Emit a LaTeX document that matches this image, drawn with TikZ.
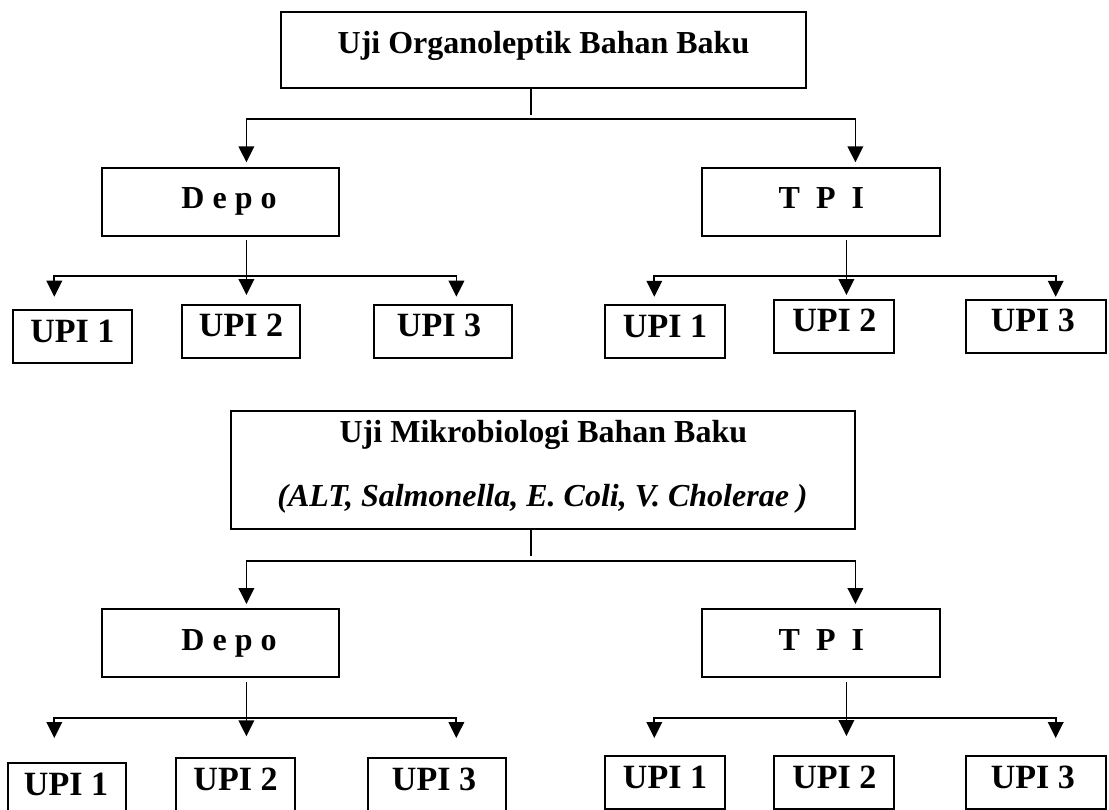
\documentclass[tikz,border=0pt]{standalone}
\usepackage{fontspec}
\setmainfont{Liberation Serif}
\usetikzlibrary{arrows.meta}
\begin{document}
\begin{tikzpicture}[x=0.5pt,y=-0.5pt]
\tikzset{
  box/.style={draw=black, line width=1pt, inner sep=0pt},
  ln/.style={line width=0.9pt},
  arr/.style={line width=0.9pt, -{Triangle[length=8pt,width=7.8pt]}},
  ttl/.style={font=\fontsize{16}{19}\selectfont\bfseries, anchor=base, inner sep=0pt},
  sub/.style={font=\fontsize{16}{19}\selectfont\bfseries\itshape, anchor=base, inner sep=0pt},
  upi/.style={font=\fontsize{17}{19}\selectfont\bfseries, anchor=base, inner sep=0pt}
}
\useasboundingbox (0,0) rectangle (1109,809);
\clip (0,0) rectangle (1109,809);

% ---------- organoleptic test ----------
\node[box, minimum width=262.2pt, minimum height=37.7pt] (org) at (543.5,50) {};
\node[ttl] (orgT) at (543.5,53.3) {Uji Organoleptik Bahan Baku};

\node[box, minimum width=118.25pt, minimum height=34pt] (depoA) at (220.4,201.7) {};
\node[ttl] (depoAT) at (229,208.3) {D e p o};
\node[box, minimum width=118.55pt, minimum height=34pt] (tpiA) at (821,201.7) {};
\node[ttl] (tpiAT) at (821.4,208.3) {T~~P~~I};

\node[box, minimum width=59.45pt, minimum height=26.5pt] (a1) at (72.3,336.5) {};
\node[upi] (a1T) at (72.3,342.3) {UPI 1};
\node[box, minimum width=59.3pt, minimum height=26.8pt] (a2) at (241.1,331.5) {};
\node[upi] (a2T) at (241,336.7) {UPI 2};
\node[box, minimum width=69.1pt, minimum height=26.8pt] (a3) at (442.7,331.5) {};
\node[upi] (a3T) at (439,336.7) {UPI 3};

\node[box, minimum width=59.8pt, minimum height=26.65pt] (b1) at (664.8,331.7) {};
\node[upi] (b1T) at (665,337.3) {UPI 1};
\node[box, minimum width=59.65pt, minimum height=26.65pt] (b2) at (834,326.7) {};
\node[upi] (b2T) at (834.3,331.7) {UPI 2};
\node[box, minimum width=69.65pt, minimum height=26.65pt] (b3) at (1036,326.7) {};
\node[upi] (b3T) at (1032.9,331.7) {UPI 3};

% connectors
\coordinate (j1) at (531,119.3);
\draw[ln] (org.south -| j1) -- ([yshift=2pt]j1);
\draw[arr, shorten >=2.2pt] (j1) -| ([xshift=13pt]depoA.north);
\draw[arr, shorten >=2.2pt] (j1) -| ([xshift=17.2pt]tpiA.north);

\coordinate (j2) at (246.4,276.3);
\draw[arr, shorten <=1.65pt, shorten >=4.35pt] ([xshift=13pt]depoA.south) -- (a2.north -| j2);
\draw[arr, shorten >=6.15pt] (j2) -| ([xshift=-9pt]a1.north);
\draw[arr, shorten >=3.5pt] (j2) -| ([xshift=6.85pt]a3.north);

\coordinate (j3) at (846.4,276.3);
\draw[arr, shorten <=1.65pt, shorten >=2pt] ([xshift=12.7pt]tpiA.south) -- (b2.north -| j3);
\draw[arr, shorten >=3.65pt] (j3) -| ([xshift=-5.25pt]b1.north);
\draw[arr, shorten >=1.15pt] (j3) -| ([xshift=9.85pt]b3.north);

% ---------- microbiological test ----------
\node[box, minimum width=312pt, minimum height=59pt] (mik) at (543.4,470) {};
\node[ttl] (mikT) at (543.4,442.3) {Uji Mikrobiologi Bahan Baku};
\node[sub] (mikS) at (542.5,506.7) {(ALT, Salmonella, E. Coli, V. Cholerae )};

\node[box, minimum width=118.25pt, minimum height=33.7pt] (depoB) at (220.4,643) {};
\node[ttl] (depoBT) at (229,650) {D e p o};
\node[box, minimum width=118.55pt, minimum height=33.7pt] (tpiB) at (821,643) {};
\node[ttl] (tpiBT) at (821.4,650) {T~~P~~I};

\node[box, minimum width=58.9pt, minimum height=26.5pt] (c1) at (66.8,789.2) {};
\node[upi] (c1T) at (66,795) {UPI 1};
\node[box, minimum width=59.45pt, minimum height=26.5pt] (c2) at (235.15,784.2) {};
\node[upi] (c2T) at (235.5,790) {UPI 2};
\node[box, minimum width=69.25pt, minimum height=26.5pt] (c3) at (437.15,784.2) {};
\node[upi] (c3T) at (434,790) {UPI 3};

\node[box, minimum width=59.8pt, minimum height=26.5pt] (d1) at (664.8,782.5) {};
\node[upi] (d1T) at (665,788.3) {UPI 1};
\node[box, minimum width=59.65pt, minimum height=26.5pt] (d2) at (834,782.5) {};
\node[upi] (d2T) at (834.3,788.3) {UPI 2};
\node[box, minimum width=69.65pt, minimum height=26.5pt] (d3) at (1036,782.5) {};
\node[upi] (d3T) at (1032.9,788.3) {UPI 3};

% connectors
\coordinate (j4) at (531,561);
\draw[ln] (mik.south -| j4) -- ([yshift=2.5pt]j4);
\draw[arr, shorten >=2.15pt] (j4) -| ([xshift=13pt]depoB.north);
\draw[arr, shorten >=2.15pt] (j4) -| ([xshift=17.2pt]tpiB.north);

\coordinate (j5) at (246.4,717.7);
\draw[arr, shorten <=2.15pt, shorten >=10.2pt] ([xshift=13pt]depoB.south) -- (c2.north -| j5);
\draw[arr, shorten >=11.85pt] (j5) -| ([xshift=-6.25pt]c1.north);
\draw[arr, shorten >=9.35pt] (j5) -| ([xshift=9.6pt]c3.north);

\coordinate (j6) at (846.4,717.7);
\draw[arr, shorten <=2.15pt, shorten >=9.5pt] ([xshift=12.7pt]tpiB.south) -- (d2.north -| j6);
\draw[arr, shorten >=8.5pt] (j6) -| ([xshift=-5.25pt]d1.north);
\draw[arr, shorten >=8.5pt] (j6) -| ([xshift=9.85pt]d3.north);
\end{tikzpicture}
\end{document}
